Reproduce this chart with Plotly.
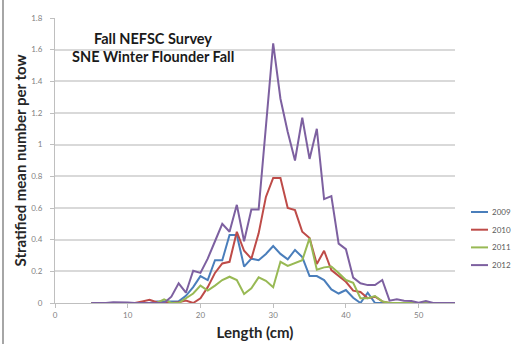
import plotly.graph_objects as go

length_cm = list(range(5, 56))

y2009 = [0, 0, 0, 0, 0, 0, 0, 0, 0,          # 5-13
         0.01, 0.01, 0.01, 0.01, 0.045, 0.10, 0.17, 0.145, 0.27, 0.27,   # 14-23
         0.43, 0.43, 0.23, 0.28, 0.27, 0.31, 0.36, 0.31, 0.276, 0.335,   # 24-33
         0.29, 0.17, 0.17, 0.145, 0.086, 0.06, 0.082, 0.033, 0.0, 0.065, # 34-43
         0.0, 0, 0, 0, 0, 0, 0]                                           # 44-50

y2010 = [0, 0, 0, 0, 0, 0, 0,                 # 5-11
         0.01, 0.02, 0.005, 0, 0, 0.005, 0.015, 0.0, 0.03, 0.10,         # 12-21
         0.19, 0.25, 0.26, 0.45, 0.33, 0.28, 0.44, 0.67, 0.79, 0.79,     # 22-31
         0.60, 0.587, 0.45, 0.41, 0.246, 0.33, 0.208, 0.17, 0.134, 0.078, # 32-41
         0.07, 0.03, 0.04, 0.01, 0, 0, 0, 0, 0]                           # 42-50

y2011 = [0, 0, 0, 0, 0, 0, 0, 0, 0, 0,        # 5-14
         0.023, 0.0, 0.0, 0.03, 0.06, 0.11, 0.078, 0.11, 0.145, 0.166,   # 15-24
         0.145, 0.057, 0.093, 0.162, 0.14, 0.10, 0.26, 0.234, 0.25, 0.27, # 25-34
         0.41, 0.21, 0.225, 0.23, 0.19, 0.145, 0.128, 0.03, 0.03, 0.044,  # 35-44
         0.01, 0, 0, 0, 0, 0, 0, 0]                                       # 45-52

y2012 = [0, 0, 0, 0.005, 0.005, 0.003, 0, 0, 0, 0, 0,   # 5-15
         0.04, 0.124, 0.065, 0.204, 0.19, 0.28, 0.39, 0.50, 0.45, 0.62,  # 16-25
         0.39, 0.59, 0.59, 1.11, 1.64, 1.29, 1.08, 0.90, 1.17, 0.91,     # 26-35
         1.10, 0.656, 0.675, 0.375, 0.34, 0.16, 0.125, 0.113, 0.113, 0.145, # 36-45
         0.015, 0.023, 0.015, 0.013, 0.002, 0.013, 0, 0, 0, 0]           # 46-55

series_names = ["2009", "2010", "2011", "2012"]
series_values = [y2009, y2010, y2011, y2012]
series_colors = ["#4A7EBB", "#BE4B48", "#98B954", "#7D60A0"]

x_ticks = [0, 10, 20, 30, 40, 50]
y_ticks = [0, 0.2, 0.4, 0.6, 0.8, 1.0, 1.2, 1.4, 1.6, 1.8]
y_ticktext = ["0", "0.2", "0.4", "0.6", "0.8", "1", "1.2", "1.4", "1.6", "1.8"]

FONT = "Lato"
L, R, T, B = 55, 56, 18, 41
W, H = 511, 344
PW, PH = W - L - R, H - T - B


def px_to_paper_x(px):
    return (px - L) / PW


def px_to_paper_y(py):
    return (H - B - py) / PH


fig = go.Figure()
for name, vals, color in zip(series_names, series_values, series_colors):
    fig.add_trace(go.Scatter(
        x=length_cm[:len(vals)], y=vals, name=name, mode="lines",
        line=dict(color=color, width=2), showlegend=False))

# legend drawn as line samples + text labels (Excel-style compact legend)
legend_shapes = []
legend_annotations = []
legend_top = 212
legend_step = 17.7
for i, (name, color) in enumerate(zip(series_names, series_colors)):
    yy = px_to_paper_y(legend_top + i * legend_step)
    legend_shapes.append(dict(type="line", xref="paper", yref="paper",
                              x0=px_to_paper_x(471), x1=px_to_paper_x(488),
                              y0=yy, y1=yy, line=dict(color=color, width=2)))
    legend_annotations.append(dict(text=name, xref="paper", yref="paper",
                                   x=px_to_paper_x(490), y=yy, showarrow=False,
                                   xanchor="left", yanchor="middle",
                                   font=dict(family=FONT, size=8, color="#595959")))

fig.update_layout(
    width=W, height=H,
    margin=dict(l=L, r=R, t=T, b=B, autoexpand=False),
    paper_bgcolor="white", plot_bgcolor="white",
    font=dict(family=FONT, color="#595959"),
    showlegend=False,
    xaxis=dict(range=[0, 55], tickvals=x_ticks, showgrid=False,
               showline=True, linecolor="#BFBFBF", linewidth=1,
               ticks="outside", ticklen=4, tickcolor="#BFBFBF",
               tickfont=dict(family=FONT, size=8, color="#7F7F7F"),
               zeroline=False,
               title=dict(text="<b>Length (cm)</b>", standoff=8,
                          font=dict(family=FONT, size=15, color="#262626"))),
    yaxis=dict(range=[0, 1.8], tickvals=y_ticks, ticktext=y_ticktext,
               showgrid=True, gridcolor="#D9D9D9", gridwidth=2,
               showline=True, linecolor="#BFBFBF", linewidth=1,
               ticks="outside", ticklen=4, tickcolor="#BFBFBF",
               tickfont=dict(family=FONT, size=8, color="#7F7F7F"),
               zeroline=False, ticklabelstandoff=6,
               title=dict(text="<b>Stratified mean number per tow</b>", standoff=0,
                          font=dict(family=FONT, size=15, color="#262626"))),
    annotations=[
        dict(text="<b>Fall NEFSC Survey</b>", xref="paper", yref="paper",
             x=px_to_paper_x(153), y=px_to_paper_y(38), showarrow=False,
             xanchor="center", yanchor="middle",
             font=dict(family=FONT, size=14.5, color="#1a1a1a")),
        dict(text="<b>SNE Winter Flounder Fall</b>", xref="paper", yref="paper",
             x=px_to_paper_x(153), y=px_to_paper_y(57), showarrow=False,
             xanchor="center", yanchor="middle",
             font=dict(family=FONT, size=14.5, color="#1a1a1a")),
    ] + legend_annotations,
    shapes=[dict(type="line", xref="paper", yref="paper",
                 x0=px_to_paper_x(3), x1=px_to_paper_x(3),
                 y0=px_to_paper_y(344), y1=px_to_paper_y(0),
                 line=dict(color="#A6A6A6", width=2))] + legend_shapes,
)

fig.write_html("out.html")
